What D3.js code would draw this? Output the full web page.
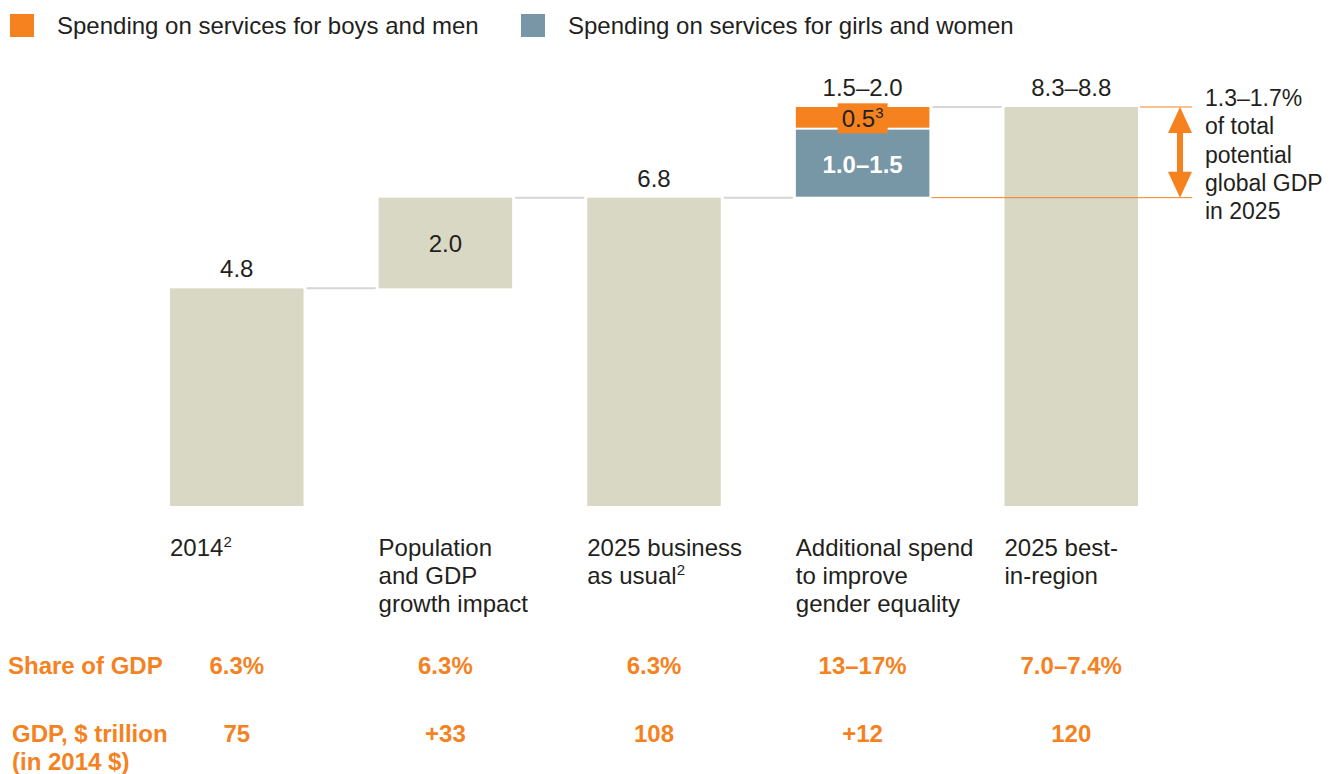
<!DOCTYPE html>
<html>
<head>
<meta charset="utf-8">
<script src="https://cdn.jsdelivr.net/npm/d3@7"></script>
<style>
  html, body { margin: 0; padding: 0; background: #fff; }
  svg text { font-family: "Liberation Sans", Arial, sans-serif; }
</style>
</head>
<body>
<svg id="chart" width="1330" height="774"></svg>
<script>
// ---------- data ----------
const categories = ["2014", "growth", "bau", "additional", "best"];
const categoryLabels = [
  [["2014", "2"]],
  [["Population"], ["and GDP"], ["growth impact"]],
  [["2025 business"], ["as usual", "2"]],
  [["Additional spend"], ["to improve"], ["gender equality"]],
  [["2025 best-"], ["in-region"]]
];
// waterfall segments: [start, end]
const baseStart = [0, 4.8, 0, 6.8, 0];
const baseEnd   = [4.8, 6.8, 6.8, null, 8.8];
const girlsSeg = [6.8, 8.3];   // spending on girls and women (category 4)
const boysSeg  = [8.3, 8.8];   // spending on boys and men (category 4)
const topLabels = ["4.8", null, "6.8", "1.5–2.0", "8.3–8.8"];
const insideLabels = [null, "2.0", null, null, null];
const girlsLabel = "1.0–1.5";
const boysLabel = ["0.5", "3"];
const shareOfGDP = ["6.3%", "6.3%", "6.3%", "13–17%", "7.0–7.4%"];
const gdpTrillion = ["75", "+33", "108", "+12", "120"];
const legendItems = ["Spending on services for boys and men", "Spending on services for girls and women"];
const annotationLines = ["1.3–1.7%", "of total", "potential", "global GDP", "in 2025"];
const connectorLevels = [4.8, 6.8, 6.8, 8.8];

// ---------- styles ----------
const ORANGE = "#F5821F";
const BLUE = "#7796A6";
const BEIGE = "#D9D8C4";
const TEXT = "#231F20";
const GRAYLINE = "#D6D6D6";
const FS = 24;

const svg = d3.select("#chart");

const x = d3.scaleBand().domain(categories).range([170, 1138]).paddingInner(0.36).paddingOuter(0);
const y = d3.scaleLinear().domain([0, 8.8]).range([506, 107]);
const bw = x.bandwidth();

// connectors
connectorLevels.forEach((v, i) => {
  svg.append("line")
    .attr("x1", x(categories[i]) + bw + 3).attr("x2", x(categories[i + 1]) - 3)
    .attr("y1", y(v)).attr("y2", y(v))
    .attr("stroke", GRAYLINE).attr("stroke-width", 2);
});

// beige bars
categories.forEach((c, i) => {
  if (baseEnd[i] === null) return;
  svg.append("rect")
    .attr("x", x(c)).attr("width", bw)
    .attr("y", y(baseEnd[i])).attr("height", y(baseStart[i]) - y(baseEnd[i]))
    .attr("fill", BEIGE);
});

// stacked bar (category 4)
const c4 = categories[3];
svg.append("rect")
  .attr("x", x(c4)).attr("width", bw)
  .attr("y", y(girlsSeg[1])).attr("height", y(girlsSeg[0]) - y(girlsSeg[1]) - 1)
  .attr("fill", BLUE);
svg.append("rect")
  .attr("x", x(c4)).attr("width", bw)
  .attr("y", y(boysSeg[1])).attr("height", y(boysSeg[0]) - y(boysSeg[1]) - 2)
  .attr("fill", ORANGE);
// label box on the orange segment
const boysMid = (y(boysSeg[0]) + y(boysSeg[1])) / 2;
svg.append("rect")
  .attr("x", x(c4) + bw / 2 - 25).attr("width", 50)
  .attr("y", boysMid - 15).attr("height", 30)
  .attr("fill", ORANGE);
const bl = svg.append("text")
  .attr("x", x(c4) + bw / 2).attr("y", boysMid + 9)
  .attr("text-anchor", "middle").attr("font-size", FS).attr("fill", TEXT);
bl.append("tspan").text(boysLabel[0]);
bl.append("tspan").attr("font-size", 15).attr("dy", -9).text(boysLabel[1]);

svg.append("text")
  .attr("x", x(c4) + bw / 2).attr("y", (y(girlsSeg[0]) + y(girlsSeg[1])) / 2 + 9)
  .attr("text-anchor", "middle").attr("font-size", FS).attr("font-weight", "bold")
  .attr("fill", "#fff").text(girlsLabel);

// top labels
const tops = [4.8, 6.8, 6.8, 8.8, 8.8];
categories.forEach((c, i) => {
  if (!topLabels[i]) return;
  svg.append("text")
    .attr("x", x(c) + bw / 2).attr("y", y(tops[i]) - 11)
    .attr("text-anchor", "middle").attr("font-size", FS).attr("fill", TEXT)
    .text(topLabels[i]);
});
// inside labels
categories.forEach((c, i) => {
  if (!insideLabels[i]) return;
  svg.append("text")
    .attr("x", x(c) + bw / 2).attr("y", (y(baseStart[i]) + y(baseEnd[i])) / 2 + 9)
    .attr("text-anchor", "middle").attr("font-size", FS).attr("fill", TEXT)
    .text(insideLabels[i]);
});

// category labels
categories.forEach((c, i) => {
  categoryLabels[i].forEach((ln, j) => {
    const t = svg.append("text")
      .attr("x", x(c)).attr("y", 556 + j * 28)
      .attr("font-size", FS).attr("fill", TEXT);
    t.append("tspan").text(ln[0]);
    if (ln[1]) t.append("tspan").attr("font-size", 15).attr("dy", -9).text(ln[1]);
  });
});

// annotation: orange guide lines + double arrow
const xr = x(categories[4]) + bw;
svg.append("line").attr("x1", xr + 2).attr("x2", 1192)
  .attr("y1", y(8.8)).attr("y2", y(8.8)).attr("stroke", ORANGE).attr("stroke-width", 1);
svg.append("line").attr("x1", x(c4) + bw + 2).attr("x2", 1192)
  .attr("y1", y(6.8)).attr("y2", y(6.8)).attr("stroke", ORANGE).attr("stroke-width", 1);
const ax = 1180, aTop = y(8.8), aBot = y(6.8), hw = 12, hh = 26;
svg.append("line").attr("x1", ax).attr("x2", ax)
  .attr("y1", aTop + hh - 2).attr("y2", aBot - hh + 2)
  .attr("stroke", ORANGE).attr("stroke-width", 6);
svg.append("path")
  .attr("d", `M${ax},${aTop}L${ax + hw},${aTop + hh}L${ax - hw},${aTop + hh}Z`)
  .attr("fill", ORANGE);
svg.append("path")
  .attr("d", `M${ax},${aBot}L${ax + hw},${aBot - hh}L${ax - hw},${aBot - hh}Z`)
  .attr("fill", ORANGE);
annotationLines.forEach((t, j) => {
  svg.append("text").attr("x", 1205).attr("y", 106 + j * 28.3)
    .attr("font-size", 23).attr("fill", TEXT).text(t);
});

// legend
const legendX = [10, 521];
const legendColors = [ORANGE, BLUE];
legendItems.forEach((t, i) => {
  svg.append("rect").attr("x", legendX[i]).attr("y", 14).attr("width", 24).attr("height", 23)
    .attr("fill", legendColors[i]);
  svg.append("text").attr("x", legendX[i] + 47).attr("y", 34)
    .attr("font-size", FS).attr("fill", TEXT).text(t);
});

// bottom rows
const boldRow = (xx, yy, txt, anchor) => svg.append("text")
  .attr("x", xx).attr("y", yy).attr("text-anchor", anchor || "start")
  .attr("font-size", FS).attr("font-weight", "bold").attr("fill", ORANGE).text(txt);
boldRow(8, 674, "Share of GDP");
boldRow(12, 742, "GDP, $ trillion");
boldRow(12, 770, "(in 2014 $)");
categories.forEach((c, i) => {
  boldRow(x(c) + bw / 2, 674, shareOfGDP[i], "middle");
  boldRow(x(c) + bw / 2, 742, gdpTrillion[i], "middle");
});
</script>
</body>
</html>
